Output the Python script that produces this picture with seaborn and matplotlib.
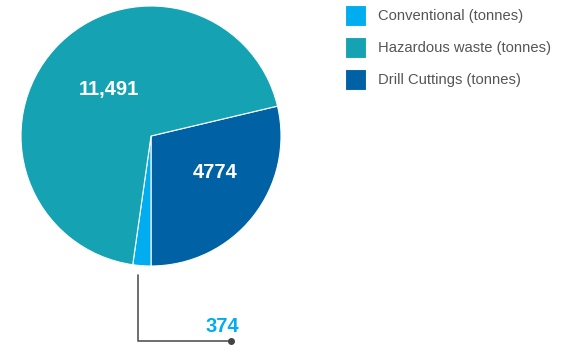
import matplotlib
matplotlib.use("Agg")
import matplotlib.pyplot as plt
import seaborn as sns

sns.set_theme(style="white")
plt.rcParams['font.family'] = ['Liberation Sans', 'DejaVu Sans']

categories = ["Conventional (tonnes)", "Hazardous waste (tonnes)", "Drill Cuttings (tonnes)"]
values = [374, 11491, 4774]
value_labels = ["374", "11,491", "4774"]
colors = ["#00AEEF", "#15A3B4", "#0062A4"]

W, H = 563, 345
fig = plt.figure(figsize=(W / 100, H / 100), dpi=100)
ax = fig.add_axes([0, 0, 1, 1])

# drawing order: clockwise from upper right -> Drill, Conventional, Hazardous
order = [2, 0, 1]
wedges, _ = ax.pie([values[i] for i in order],
                   colors=[colors[i] for i in order],
                   startangle=13.3, counterclock=False,
                   center=(151, H - 136), radius=130,
                   wedgeprops=dict(edgecolor="white", linewidth=0.8),
                   frame=True)
ax.set_xlim(0, W)
ax.set_ylim(0, H)
ax.set_aspect("equal")
ax.axis("off")

# wedge value labels
ax.text(109, H - 90, value_labels[1], color="white", fontsize=14.5,
        fontweight="bold", ha="center", va="center")
ax.text(215, H - 173, value_labels[2], color="white", fontsize=14.5,
        fontweight="bold", ha="center", va="center")

# leader line for the small slice
ax.plot([138, 138, 231], [H - 275, H - 341, H - 341], color="#555555", lw=1.2)
ax.plot([231], [H - 341], "o", color="#444444", ms=4)
ax.text(222, H - 326, value_labels[0], color=colors[0], fontsize=14.5,
        fontweight="bold", ha="center", va="center")

# legend in category order
handles = [wedges[order.index(i)] for i in range(3)]
leg = fig.legend(handles, categories, loc="upper left",
                 bbox_to_anchor=(339 / W, 1 + 1 / H), frameon=False,
                 fontsize=10.6, handlelength=1.43, handleheight=1.82,
                 labelspacing=0.75, handletextpad=0.8, borderaxespad=0)
for t in leg.get_texts():
    t.set_color("#555555")

fig.savefig("out.png", dpi=100)
